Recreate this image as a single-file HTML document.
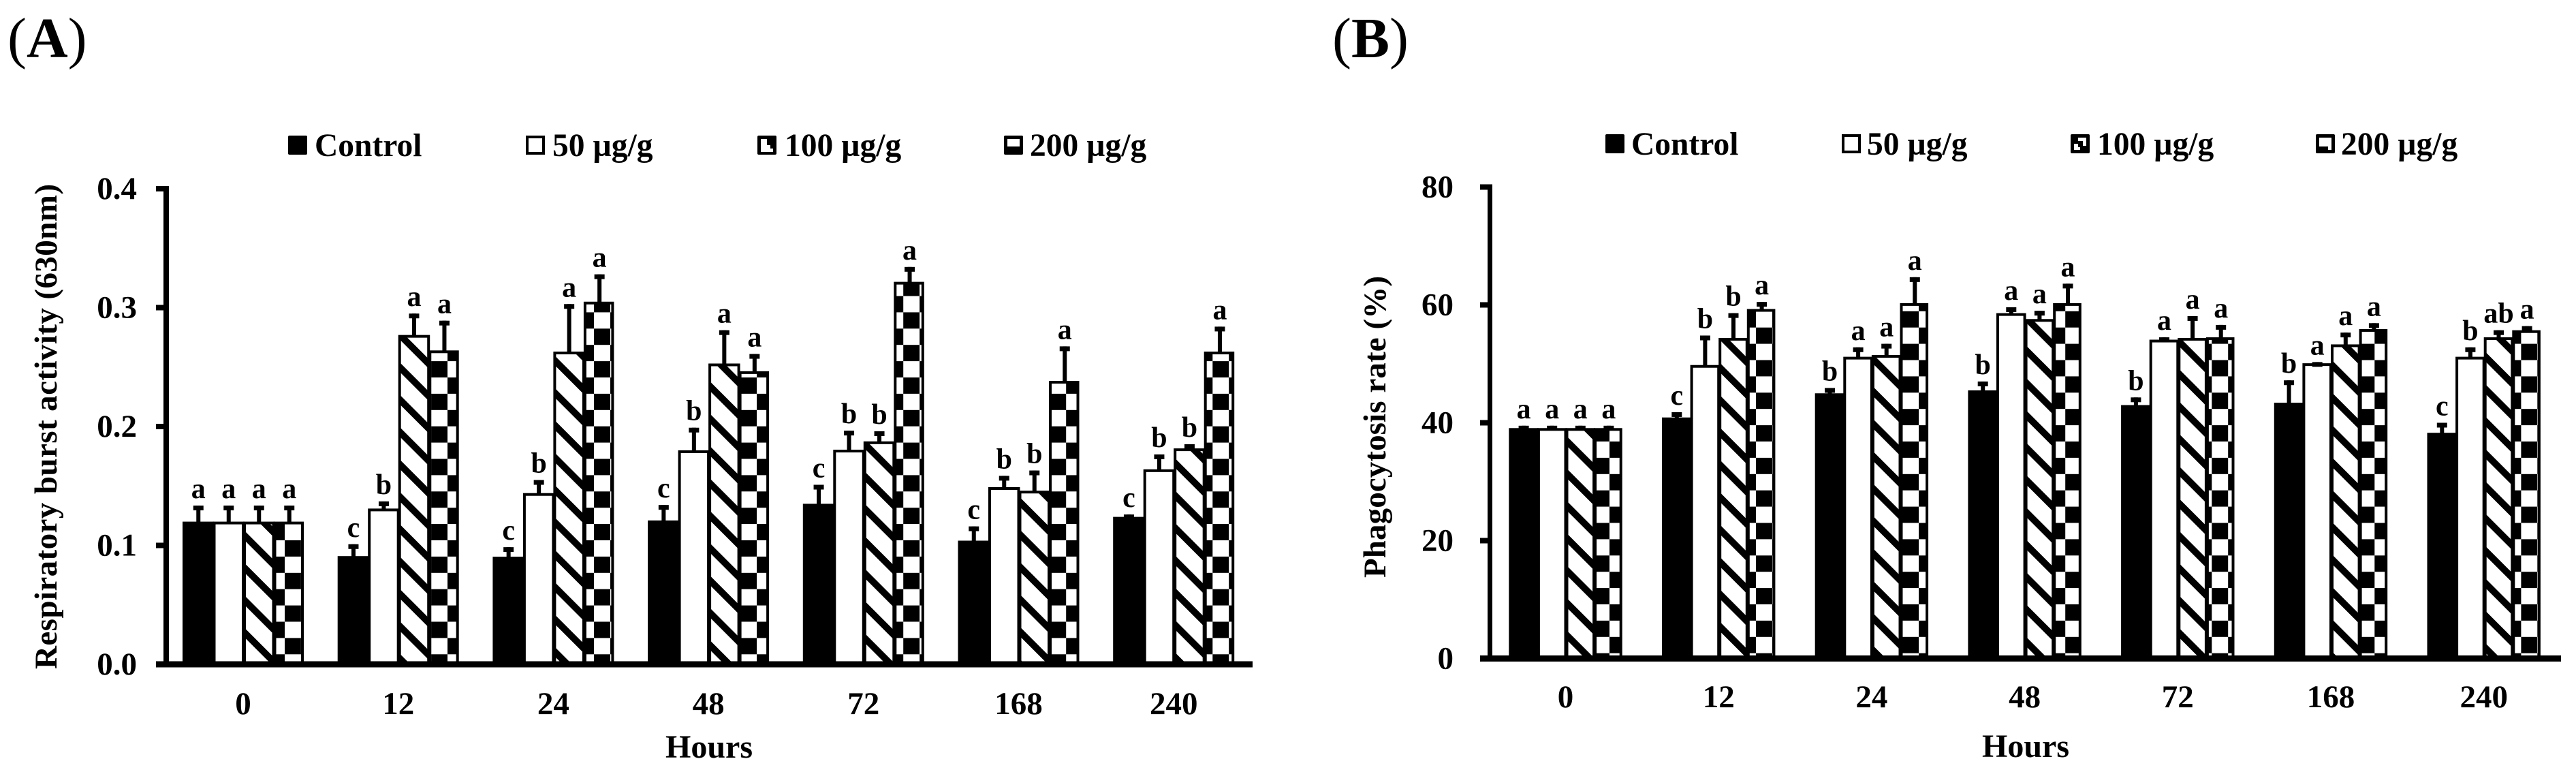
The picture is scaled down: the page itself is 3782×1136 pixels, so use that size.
<!DOCTYPE html>
<html lang="en">
<head>
<meta charset="utf-8">
<title>Respiratory burst activity and phagocytosis rate</title>
<style>
html,body{margin:0;padding:0;background:#fff;width:3782px;height:1136px;overflow:hidden}
svg{display:block}
text{font-family:"Liberation Serif",serif;font-weight:bold;fill:#000}
</style>
</head>
<body>
<svg id="figure" xmlns="http://www.w3.org/2000/svg" width="3782" height="1136" viewBox="0 0 3782 1136">
  <defs>
    <pattern id="stripeA" patternUnits="userSpaceOnUse" width="47.5" height="47.5" patternTransform="translate(358 778)">
      <rect width="47.5" height="47.5" fill="#fff"/>
      <polygon points="0,0 47.5,47.5 33.5,47.5 0,14" fill="#000"/>
      <polygon points="33.5,0 47.5,0 47.5,14" fill="#000"/>
    </pattern>
    <pattern id="stripeB" patternUnits="userSpaceOnUse" width="47.5" height="47.5" patternTransform="translate(2350 642.5)">
      <rect width="47.5" height="47.5" fill="#fff"/>
      <polygon points="0,0 47.5,47.5 33.5,47.5 0,14" fill="#000"/>
      <polygon points="33.5,0 47.5,0 47.5,14" fill="#000"/>
    </pattern>
    <pattern id="checkA" patternUnits="userSpaceOnUse" width="47.8" height="47.8" patternTransform="translate(418 793)">
      <rect width="47.8" height="47.8" fill="#fff"/>
      <rect width="23.9" height="23.9" fill="#000" shape-rendering="crispEdges"/>
      <rect x="23.9" y="23.9" width="23.9" height="23.9" fill="#000" shape-rendering="crispEdges"/>
    </pattern>
    <pattern id="checkB" patternUnits="userSpaceOnUse" width="47.8" height="47.8" patternTransform="translate(2363 648)">
      <rect width="47.8" height="47.8" fill="#fff"/>
      <rect width="23.9" height="23.9" fill="#000" shape-rendering="crispEdges"/>
      <rect x="23.9" y="23.9" width="23.9" height="23.9" fill="#000" shape-rendering="crispEdges"/>
    </pattern>
  </defs>
  <rect width="3782" height="1136" fill="#fff"/>

  <text x="11" y="84" font-size="84"><tspan style="font-weight:normal">(</tspan>A<tspan style="font-weight:normal">)</tspan></text>
  <text x="1956" y="84" font-size="84"><tspan style="font-weight:normal">(</tspan>B<tspan style="font-weight:normal">)</tspan></text>

  <text transform="translate(83 982) rotate(-90)" font-size="47" textLength="712" lengthAdjust="spacing">Respiratory burst activity (630nm)</text>
  <text transform="translate(2034 848) rotate(-90)" font-size="47" textLength="443" lengthAdjust="spacing">Phagocytosis rate (%)</text>

  <text x="1041" y="1112" font-size="48" text-anchor="middle">Hours</text>
  <text x="2974" y="1111" font-size="48" text-anchor="middle">Hours</text>

  <g id="chart-a"></g>
  <g id="chart-b"></g>

  <g>
    <g>
      <rect x="423" y="199" width="28" height="28" rx="2" fill="#000"/>
      <text x="462" y="229" font-size="47.5">Control</text>
    </g>
    <g>
      <rect x="774" y="201" width="24" height="24" fill="#fff" stroke="#000" stroke-width="4"/>
      <text x="811" y="229" font-size="47.5">50 µg/g</text>
    </g>
    <g>
      <rect x="1112" y="199" width="28" height="28" rx="2" fill="#000"/>
      <polygon points="1117,204 1126,204 1126,213 1131,213 1131,218 1135,218 1135,223 1117,223" fill="#fff"/>
      <text x="1152" y="229" font-size="47.5">100 µg/g</text>
    </g>
    <g>
      <rect x="1474" y="199" width="28" height="28" rx="2" fill="#000"/>
      <rect x="1479" y="204" width="18" height="11" fill="#fff"/>
      <text x="1512" y="229" font-size="47.5">200 µg/g</text>
    </g>
  </g>

  <g>
    <g>
      <rect x="2357" y="197" width="28" height="28" rx="2" fill="#000"/>
      <text x="2395" y="227" font-size="47.5">Control</text>
    </g>
    <g>
      <rect x="2706" y="199" width="24" height="24" fill="#fff" stroke="#000" stroke-width="4"/>
      <text x="2741" y="227" font-size="47.5">50 µg/g</text>
    </g>
    <g>
      <rect x="3040" y="197" width="28" height="28" rx="2" fill="#000"/>
      <polygon points="3051,202 3063,202 3063,214 3058,214 3058,207 3051,207" fill="#fff"/>
      <polygon points="3045,211 3051,211 3051,216 3054,216 3054,220 3045,220" fill="#fff"/>
      <text x="3079" y="227" font-size="47.5">100 µg/g</text>
    </g>
    <g>
      <rect x="3400" y="197" width="28" height="28" rx="2" fill="#000"/>
      <rect x="3405" y="202" width="18" height="13" fill="#fff"/>
      <rect x="3418" y="215" width="5" height="5" fill="#fff"/>
      <text x="3437" y="227" font-size="47.5">200 µg/g</text>
    </g>
  </g>
</svg>

<script>
var categories = ["0", "12", "24", "48", "72", "168", "240"];
var seriesKeys = ["control", "50", "100", "200"];

var ticksA = ["0.0", "0.1", "0.2", "0.3", "0.4"];
var controlA = [0.12, 0.091, 0.0905, 0.121, 0.135, 0.104, 0.124];
var dose50A = [0.12, 0.131, 0.144, 0.180, 0.1805, 0.149, 0.164];
var dose100A = [0.12, 0.277, 0.263, 0.253, 0.1875, 0.146, 0.1816];
var dose200A = [0.12, 0.264, 0.305, 0.2465, 0.3217, 0.2384, 0.263];
var errControlA = [0.0135, 0.010, 0.008, 0.013, 0.016, 0.012, 0.002];
var err50A = [0.0135, 0.006, 0.011, 0.019, 0.016, 0.0095, 0.0125];
var err100A = [0.0135, 0.018, 0.040, 0.028, 0.0085, 0.017, 0.0035];
var err200A = [0.0135, 0.025, 0.023, 0.0145, 0.0125, 0.029, 0.021];
var lettersControlA = ["a", "c", "c", "c", "c", "c", "c"];
var letters50A = ["a", "b", "b", "b", "b", "b", "b"];
var letters100A = ["a", "a", "a", "a", "b", "b", "b"];
var letters200A = ["a", "a", "a", "a", "a", "a", "a"];

var ticksB = ["0", "20", "40", "60", "80"];
var controlB = [39.1, 40.9, 45.0, 45.5, 43.0, 43.4, 38.3];
var dose50B = [39.1, 49.8, 51.2, 58.6, 54.1, 50.1, 51.2];
var dose100B = [39.1, 54.4, 51.5, 57.6, 54.4, 53.3, 54.5];
var dose200B = [39.1, 59.3, 60.3, 60.3, 54.5, 55.9, 55.7];
var errControlB = [0.4, 0.9, 0.9, 1.5, 1.3, 3.8, 1.7];
var err50B = [0.4, 5.0, 1.6, 1.0, 0.4, 0.2, 1.6];
var err100B = [0.4, 4.2, 1.9, 1.4, 3.7, 2.0, 1.2];
var err200B = [0.4, 1.2, 4.4, 3.3, 2.1, 1.0, 0.7];
var lettersControlB = ["a", "c", "b", "b", "b", "b", "c"];
var letters50B = ["a", "b", "a", "a", "a", "a", "b"];
var letters100B = ["a", "b", "a", "a", "a", "a", "ab"];
var letters200B = ["a", "a", "a", "a", "a", "a", "a"];

var SVGNS = "http://www.w3.org/2000/svg";

function mk(parent, tag, attrs, txt) {
  var el = document.createElementNS(SVGNS, tag);
  for (var k in attrs) { el.setAttribute(k, attrs[k]); }
  if (txt !== undefined) { el.textContent = txt; }
  parent.appendChild(el);
  return el;
}

function drawChart(root, cfg, means, errs, letters, ticks) {
  var yPos = function (v) { return cfg.y0 - v * cfg.yScale; };
  var xCenter = function (i) { return cfg.xStart + cfg.pitch * i; };
  var barLeft = function (i, s) { return xCenter(i) - 2 * cfg.barW + s * cfg.barW; };
  var fills = ["#000", "#fff", "url(#" + cfg.stripe + ")", "url(#" + cfg.check + ")"];

  categories.forEach(function (cat, i) {
    var group = mk(root, "g", {});
    
    

    seriesKeys.forEach(function (key, s) {
      var top = yPos(means[s][i]);
      var left = barLeft(i, s);
      var bar = mk(group, "rect", {
        x: left + 2, y: top + 2, width: cfg.barW - 4 + (s === 3 ? 0 : 2), height: cfg.y0 - top - 2,
        fill: fills[s], stroke: "#000", "stroke-width": 4
      });
      
      
    });

    seriesKeys.forEach(function (key, s) {
      var top = yPos(means[s][i]);
      var capTop = yPos(means[s][i] + errs[s][i]);
      var cx = barLeft(i, s) + cfg.barW / 2 + 1;
      var stem = mk(group, "rect", { x: cx - 3, y: capTop, width: 6, height: top - capTop + 2, fill: "#000" });
      
      
      var cap = mk(group, "rect", { x: cx - 7.5, y: capTop, width: 15, height: 7, fill: "#000" });
      
      
      var lab = mk(group, "text", { x: cx, y: capTop - 11, "font-size": 42, "text-anchor": "middle" }, letters[s][i]);
      
      
    });

    var catLabel = mk(group, "text", { x: xCenter(i), y: cfg.catBaseline, "font-size": 47, "text-anchor": "middle" }, cat);
    
    
  });

  var yAxis = mk(root, "rect", { x: cfg.axisX, y: yPos(cfg.yMax) - 4, width: cfg.axisW, height: cfg.y0 - yPos(cfg.yMax) + 8, fill: "#000" });
  
  

  var xAxis = mk(root, "rect", { x: cfg.tickX, y: cfg.y0 - 4.5, width: cfg.xEnd - cfg.tickX, height: 9, fill: "#000" });
  
  

  ticks.forEach(function (t) {
    var v = parseFloat(t);
    var tick = mk(root, "rect", { x: cfg.tickX, y: yPos(v) - 4, width: cfg.axisX - cfg.tickX, height: 8, fill: "#000" });
    
    
    var label = mk(root, "text", { x: cfg.labelX, y: yPos(v) + 15, "font-size": 47, "text-anchor": "end" }, t);
    
    
  });
}

drawChart(document.getElementById("chart-a"), {
  y0: 975, yScale: 1745, yMax: 0.4, xStart: 357, pitch: 227.7, barW: 44.5,
  axisX: 240, axisW: 8, tickX: 229, xEnd: 1839, labelX: 201, catBaseline: 1048,
  stripe: "stripeA", check: "checkA"
}, [controlA, dose50A, dose100A, dose200A], [errControlA, err50A, err100A, err200A],
   [lettersControlA, letters50A, letters100A, letters200A], ticksA);

drawChart(document.getElementById("chart-b"), {
  y0: 966.5, yScale: 8.65, yMax: 80, xStart: 2298.5, pitch: 224.7, barW: 41.6,
  axisX: 2184, axisW: 7, tickX: 2173, xEnd: 3760, labelX: 2134, catBaseline: 1038,
  stripe: "stripeB", check: "checkB"
}, [controlB, dose50B, dose100B, dose200B], [errControlB, err50B, err100B, err200B],
   [lettersControlB, letters50B, letters100B, letters200B], ticksB);
</script>
</body>
</html>
